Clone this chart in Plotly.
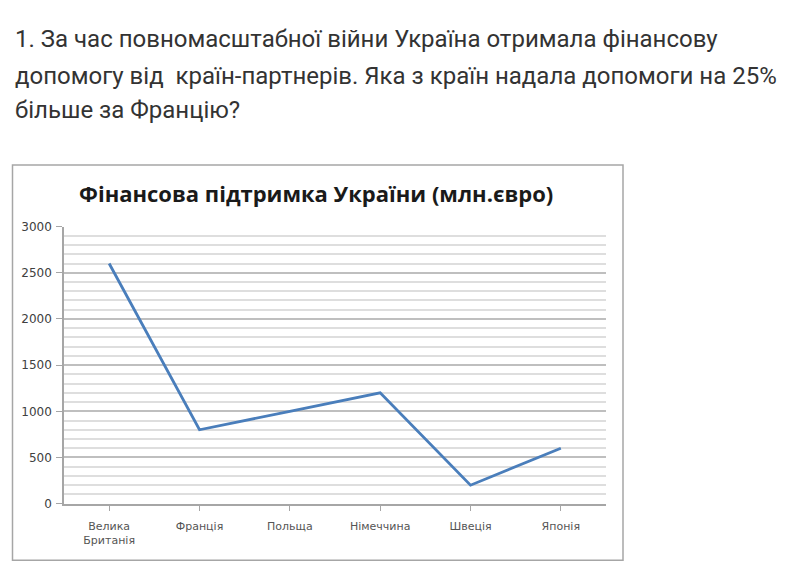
import plotly.graph_objects as go

W, H = 786, 578

countries = ["Велика<br>Британія", "Франція", "Польща", "Німеччина", "Швеція", "Японія"]
aid_mln_eur = [2600, 800, 1000, 1200, 200, 600]
y_ticks = [0, 500, 1000, 1500, 2000, 2500, 3000]

question_lines = [
    "1. За час повномасштабної війни Україна отримала фінансову",
    "допомогу від  країн-партнерів. Яка з країн надала допомоги на 25%",
    "більше за Францію?",
]
chart_title = "Фінансова підтримка України (млн.євро)"


def px(x):
    return x / W


def py(y):
    return 1 - y / H


fig = go.Figure()
fig.add_trace(go.Scatter(
    x=list(range(len(countries))),
    y=aid_mln_eur,
    mode="lines",
    line=dict(color="#4a7ebb", width=2.8),
    hoverinfo="y",
))

annotations = []
for line, yc in zip(question_lines, [33, 71, 106]):
    annotations.append(dict(
        text=line.replace("  ", "&nbsp; "), x=px(13), y=py(yc), xref="paper", yref="paper",
        xanchor="left", yanchor="middle", showarrow=False,
        font=dict(family="Roboto", size=24, color="#333333"),
    ))
annotations.append(dict(
    text="<b>" + chart_title + "</b>", x=px(316), y=py(191), xref="paper", yref="paper",
    xanchor="center", yanchor="middle", showarrow=False,
    font=dict(family="Open Sans", size=22, color="#1a1a1a"),
))

fig.update_layout(
    width=W, height=H, autosize=False,
    margin=dict(l=0, r=0, t=0, b=0),
    paper_bgcolor="white", plot_bgcolor="white",
    showlegend=False,
    annotations=annotations,
    shapes=[dict(
        type="rect", xref="paper", yref="paper",
        x0=px(12.5), x1=px(623), y0=py(567), y1=py(162),
        line=dict(color="#a6a6a6", width=1.5), fillcolor="rgba(0,0,0,0)", layer="below",
    )],
    xaxis=dict(
        domain=[px(64), px(606)],
        range=[-0.5, len(countries) - 0.5],
        tickmode="array",
        tickvals=list(range(len(countries))),
        ticktext=countries,
        tickson="boundaries",
        ticks="outside", ticklen=6, tickcolor="#a6a6a6", tickwidth=1.2,
        showline=True, linecolor="#a6a6a6", linewidth=1.5,
        showgrid=False, zeroline=False,
        tickfont=dict(family="DejaVu Sans", size=11, color="#555555"),
        ticklabelstandoff=5,
        fixedrange=True,
    ),
    yaxis=dict(
        domain=[py(509), py(225)],
        range=[0, 3000],
        tickmode="array", tickvals=y_ticks,
        ticks="outside", ticklen=6, tickcolor="#a6a6a6", tickwidth=1.2,
        showline=True, linecolor="#a6a6a6", linewidth=1.5,
        showgrid=True, gridcolor="#bfbfbf", gridwidth=1.5,
        zeroline=False,
        minor=dict(dtick=100, showgrid=True, gridcolor="#dedede", gridwidth=1.5, ticks=""),
        tickfont=dict(family="DejaVu Sans", size=12, color="#404040"),
        ticklabelstandoff=2,
        fixedrange=True,
    ),
)

fig.write_html(
    "out.html",
    config={"displayModeBar": False},
    post_script="document.body.style.margin='0';document.body.style.overflow='hidden';",
)
